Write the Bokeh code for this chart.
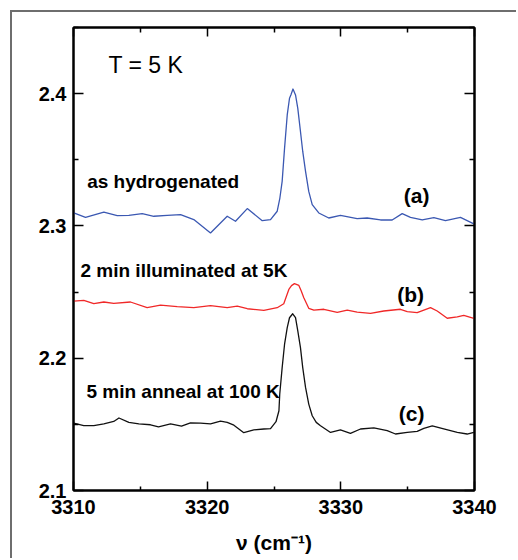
from bokeh.plotting import figure
from bokeh.models import Range1d, LinearAxis, FixedTicker, Label
from bokeh.embed import file_html
from bokeh.resources import INLINE

# ---- data ----
wn_a = [3310.02, 3310.90, 3312.27, 3313.27, 3314.14, 3315.14, 3316.01, 3317.01, 3318.01, 3319.00,
        3320.25, 3321.50, 3322.12, 3323.00, 3324.12, 3324.74, 3325.24, 3325.44, 3325.61, 3325.79,
        3325.99, 3326.16, 3326.27, 3326.42, 3326.61, 3326.78, 3326.98, 3327.15, 3327.36, 3327.60,
        3327.86, 3328.35, 3329.10, 3329.97, 3331.22, 3331.97, 3332.97, 3333.84, 3334.59, 3335.21,
        3336.09, 3336.96, 3337.83, 3338.95, 3339.95]
abs_a = [2.3098, 2.3065, 2.3105, 2.3078, 2.3080, 2.3093, 2.3073, 2.3080, 2.3086, 2.3048,
         2.2947, 2.3073, 2.3035, 2.3131, 2.3040, 2.3048, 2.3111, 2.3211, 2.3337, 2.3588,
         2.3839, 2.3965, 2.3992, 2.4035, 2.3990, 2.3889, 2.3714, 2.3563, 2.3412, 2.3261,
         2.3161, 2.3098, 2.3060, 2.3080, 2.3055, 2.3060, 2.3045, 2.3045, 2.3093, 2.3065,
         2.3045, 2.3063, 2.3040, 2.3065, 2.3015]

wn_b = [3310.02, 3310.77, 3311.52, 3312.27, 3313.01, 3314.26, 3315.51, 3316.51, 3317.76, 3319.00,
        3320.25, 3321.50, 3322.25, 3323.00, 3324.24, 3325.24, 3325.73, 3326.11, 3326.31, 3326.53,
        3326.86, 3327.04, 3327.23, 3327.60, 3327.98, 3328.73, 3329.73, 3330.48, 3331.22, 3332.22,
        3333.21, 3334.46, 3334.97, 3335.71, 3336.71, 3337.21, 3337.96, 3338.71, 3339.20, 3339.95]
abs_b = [2.2432, 2.2437, 2.2412, 2.2425, 2.2415, 2.2425, 2.2382, 2.2402, 2.2390, 2.2382,
         2.2397, 2.2382, 2.2394, 2.2374, 2.2362, 2.2382, 2.2412, 2.2520, 2.2549, 2.2564,
         2.2550, 2.2508, 2.2457, 2.2377, 2.2364, 2.2370, 2.2347, 2.2364, 2.2349, 2.2339,
         2.2357, 2.2370, 2.2352, 2.2344, 2.2382, 2.2357, 2.2302, 2.2312, 2.2324, 2.2302]

wn_c = [3310.02, 3310.77, 3311.52, 3312.27, 3313.01, 3313.40, 3314.14, 3314.89, 3315.76, 3316.36,
        3317.26, 3318.08, 3318.75, 3319.50, 3320.25, 3321.00, 3321.50, 3322.00, 3322.74, 3323.49,
        3324.24, 3324.74, 3325.15, 3325.37, 3325.43, 3325.61, 3325.79, 3325.99, 3326.16, 3326.40,
        3326.61, 3326.78, 3326.98, 3327.15, 3327.36, 3327.60, 3327.86, 3328.16, 3328.48, 3329.23,
        3329.97, 3330.72, 3331.47, 3332.47, 3333.47, 3334.09, 3334.97, 3335.71, 3336.21, 3336.84,
        3337.70, 3338.71, 3339.45, 3339.95]
abs_c = [2.1510, 2.1490, 2.1490, 2.1503, 2.1522, 2.1548, 2.1515, 2.1503, 2.1497, 2.1481,
         2.1503, 2.1486, 2.1511, 2.1509, 2.1503, 2.1524, 2.1515, 2.1494, 2.1437, 2.1458,
         2.1465, 2.1467, 2.1520, 2.1603, 2.1729, 2.1929, 2.2106, 2.2231, 2.2306, 2.2336,
         2.2306, 2.2206, 2.2080, 2.1929, 2.1779, 2.1653, 2.1565, 2.1515, 2.1490, 2.1439,
         2.1458, 2.1432, 2.1465, 2.1473, 2.1452, 2.1427, 2.1439, 2.1447, 2.1470, 2.1488,
         2.1465, 2.1439, 2.1427, 2.1439]

x_major = [3310, 3320, 3330, 3340]
x_minor = [3315, 3325, 3335]
y_major = [2.1, 2.2, 2.3, 2.4]
y_minor = [2.15, 2.25, 2.35, 2.45]

annotations = [
    ("T = 5 K", 3312.62, 2.4213, "normal", "23px"),
    ("as hydrogenated", 3311.02, 2.3336, "bold", "19px"),
    ("(a)", 3334.71, 2.3231, "bold", "21px"),
    ("2 min illuminated at 5K", 3310.52, 2.2663, "bold", "19px"),
    ("(b)", 3334.22, 2.2478, "bold", "21px"),
    ("5 min anneal at 100 K", 3310.97, 2.1751, "bold", "19px"),
    ("(c)", 3334.34, 2.1581, "bold", "21px"),
]
x_title = "ν (cm⁻¹)"

FONT = "Liberation Sans"

p = figure(width=506, height=548, x_range=Range1d(3310, 3340), y_range=Range1d(2.1, 2.45),
           output_backend="svg", toolbar_location=None,
           min_border_left=61, min_border_right=44, min_border_top=15, min_border_bottom=70)
p.styles = {"margin-left": "10px", "margin-top": "10px",
            "border-left": "2px solid #6e6e6e", "border-top": "2px solid #6e6e6e"}
p.xgrid.visible = False
p.ygrid.visible = False
p.outline_line_color = "black"
p.outline_line_width = 2
p.background_fill_color = "white"
p.border_fill_color = "white"

p.line(wn_a, abs_a, color="#3b58b2", line_width=1.3, line_join="round")
p.line(wn_b, abs_b, color="#f02828", line_width=1.3, line_join="round")
p.line(wn_c, abs_c, color="#111111", line_width=1.3, line_join="round")

def style_axis(ax, major, minor, show_labels, standoff=7, tick_len=10, minor_len=5):
    ax.ticker = FixedTicker(ticks=major, minor_ticks=minor)
    ax.axis_line_color = "black"
    ax.axis_line_width = 2
    ax.major_tick_in = tick_len
    ax.major_tick_out = 0
    ax.minor_tick_in = minor_len
    ax.minor_tick_out = 0
    ax.major_tick_line_color = "black"
    ax.major_tick_line_width = 1.5
    ax.minor_tick_line_color = "black"
    ax.minor_tick_line_width = 1.5
    if show_labels:
        ax.major_label_text_font = FONT
        ax.major_label_text_font_style = "bold"
        ax.major_label_text_font_size = "20px"
        ax.major_label_text_color = "black"
        ax.major_label_standoff = standoff
    else:
        ax.major_label_overrides = {v: "" for v in major}
        ax.major_label_text_font_size = "10px"
        ax.major_label_standoff = 0

xb = p.xaxis[0]
yl = p.yaxis[0]
style_axis(xb, x_major, x_minor, True, standoff=9, tick_len=9, minor_len=4)
style_axis(yl, y_major, y_minor, True, standoff=7)
xb.axis_label = x_title
xb.axis_label_text_font = FONT
xb.axis_label_text_font_style = "bold"
xb.axis_label_text_font_size = "21px"
xb.axis_label_text_color = "black"
xb.axis_label_standoff = 14

xt = LinearAxis()
yr = LinearAxis()
style_axis(xt, x_major, x_minor, False, tick_len=9)
style_axis(yr, y_major, y_minor, False)
p.add_layout(xt, "above")
p.add_layout(yr, "right")

for txt, x, y, style, size in annotations:
    p.add_layout(Label(x=x, y=y, text=txt, text_font=FONT, text_font_style=style,
                       text_font_size=size, text_color="black",
                       text_align="left", text_baseline="alphabetic"))

open("out.html", "w").write(file_html(p, INLINE))
